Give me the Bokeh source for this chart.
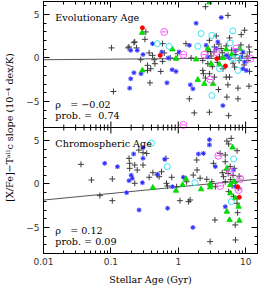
import numpy as np
from bokeh.plotting import figure
from bokeh.models import (Range1d, LogAxis, LinearAxis, FixedTicker, LogTicker,
                          CustomJSTickFormatter, Span, Label)
from bokeh.embed import file_html
from bokeh.resources import INLINE

# ---------------- data (age in Gyr, slope in 1e-4 dex/K) ----------------
# Evolutionary age panel
evo_plus_age = [0.102, 0.18, 0.109, 0.33, 0.32, 0.22, 0.186, 0.24, 0.585, 0.37, 0.415, 0.62, 0.76, 0.277, 0.44,
                0.45, 0.35, 0.39, 0.585, 0.35, 0.55, 0.38, 0.226,
                2.53, 5.46, 9.66, 8.6, 5.77, 3.66, 2.9, 1.3, 3.44, 4.33, 5.15, 11.2, 11.4, 2.75, 3.0, 3.4, 0.98,
                1.55, 2.31, 3.07, 4.09, 10.8, 2.75, 4.6, 6.85, 11.4, 2.31, 2.36, 2.9, 2.53, 3.44, 5.15, 5.77, 1.46,
                3.95, 5.46, 7.7, 11.2, 1.73, 2.9, 5.6, 5.27, 7.7,
                4.5, 5.5, 6.2, 7.0, 8.0, 9.0, 3.8, 6.5, 4.0, 8.5, 10.5, 3.2, 9.5]
evo_plus_val = [1.16, 1.16, -3.86, 3.0, 2.15, 1.77, 1.27, 1.16, 1.65, 0.58, 0.3, 0.58, 0.0, -0.2, -0.2,
                -0.66, -0.85, -1.24, -0.39, -1.43, -1.55, -2.86, 1.85,
                5.9, 4.9, 3.19, 2.69, 2.31, 2.54, 2.03, 1.65, 1.27, 1.08, 1.39, 1.27, 0.69, 0.76, 0.72, 0.7, 0.5,
                0.0, -0.28, 0.23, 0.12, -0.28, -0.66, -1.24, -1.04, -1.55, -1.43, -1.81, -1.81, -2.31, -2.2, -2.2,
                -2.2, -4.7, -3.63, -3.09, -3.47, -3.24, -6.32, -6.24, -6.64, -4.5, -4.7,
                0.6, 0.3, 0.9, 0.4, -0.3, 0.5, -0.5, -0.6, 1.6, 1.5, 0.2, -1.0, -0.8]
evo_blue_age = [0.19, 0.197, 0.246, 0.415, 0.57, 0.71, 0.22, 0.28, 0.197, 0.81, 0.925, 0.68, 4.34, 1.84, 3.87,
                1.46, 2.59, 3.66, 9.1, 1.03, 2.75, 5.15, 5.77, 8.6, 9.66, 9.1, 10.2, 1.51, 1.65, 4.6, 0.3, 7.0]
evo_blue_val = [-3.47, 0.88, 0.88, 1.65, 0.69, 0.0, -1.7, -1.81, -2.39, -1.35, -1.55, -2.86, 4.66, 4.0, 1.85,
                1.46, 1.46, 1.08, 0.69, 0.69, 0.12, 0.3, 0.0, 0.12, -0.46, -1.24, -1.43, -3.09, -3.55, -5.48, 0.4, 0.8]
evo_green_age = [2.9, 0.29, 0.82, 0.925, 0.294, 2.75, 5.15, 8.1, 1.84, 4.6, 3.07, 4.09, 1.95, 2.44, 3.28, 6.2]
evo_green_val = [6.4, 2.9, 0.99, -0.08, -1.43, 1.08, 0.99, 1.08, -0.16, 0.0, -0.66, -0.77, -2.51, -2.97, -2.97, 0.4]
evo_cyan_age = [0.49, 0.73, 2.18, 3.15, 6.46, 5.9, 1.95, 6.46, 7.7, 4.09, 7.7, 3.15]
evo_cyan_val = [1.65, 1.34, 2.81, 2.6, 3.12, 1.73, 1.34, -0.08, 0.0, -1.24, -1.43, -4.32]
evo_mag_age = [0.62, 3.66, 7.26, 2.44, 1.19, 11.8, 3.0, 1.19]
evo_mag_val = [3.0, 0.69, 1.08, 0.38, 0.38, -0.08, -2.47, -7.7]
evo_red_age = [0.294, 0.54, 3.74, 5.02]
evo_red_val = [3.47, 0.3, -0.08, -0.92]
evo_fit_age = [0.01, 15.0]
evo_fit_val = [-0.2, 0.0]

# Chromospheric age panel
chr_plus_age = [0.036, 0.0515, 0.105, 0.0686, 0.105, 0.186, 0.19, 0.19, 0.246, 0.26, 0.30, 0.34, 0.226, 0.30,
                0.226, 0.565, 0.49, 0.42, 0.655, 0.52, 0.8, 0.37, 0.67, 0.946, 0.69, 1.88, 1.9, 1.67, 2.11, 2.65,
                3.15, 1.33, 1.06, 1.5, 1.42, 5.27, 5.6, 6.1, 4.19, 4.98, 7.45, 3.33, 4.98, 5.9, 4.7, 4.98, 3.55,
                5.59, 6.62, 7.45, 7.6, 7.0, 3.5, 2.97, 7.06, 5.5, 6.0, 6.5, 7.0, 5.2, 6.8, 4.5, 8.0, 7.8, 6.3]
chr_plus_val = [2.26, 0.46, 0.57, -1.34, -1.92, 2.95, 2.38, 1.8, 1.61, 3.9, 3.6, 3.52, 2.18, 2.18,
                0.08, 1.41, 1.03, 1.3, 2.95, 0.84, 0.77, 0.77, 0.08, -0.31, -0.23, 2.76, 1.61, 1.03, 0.66, 0.54,
                0.26, 0.26, -1.92, -1.84, -2.03, 4.94, 4.6, 5.25, 3.52, 3.33, 3.83, 2.38, 2.56, 2.0, 0.84, 0.26,
                -0.31, -0.88, -1.46, -2.22, -3.3, -4.71, -4.14, -6.63, -6.44, 1.2, 0.5, 1.0, 0.2, 1.6, 1.8, 1.3,
                0.9, -0.5, -0.2]
chr_blue_age = [0.081, 0.125, 0.171, 0.208, 0.186, 0.262, 0.30, 0.218, 0.30, 0.294, 0.63, 0.49, 0.82, 0.695,
                1.19, 2.9, 2.9, 1.99, 2.36, 3.55, 6.62, 7.06, 4.98, 1.65, 0.2]
chr_blue_val = [2.38, 1.99, -1.0, 0.66, 0.38, -2.99, 4.2, 3.45, 2.95, 0.15, 2.84, 1.11, -0.31, -2.79,
                0.77, 5.1, 4.5, 3.45, 3.52, 2.0, 1.61, -0.31, -2.61, -5.0, 1.0]
chr_green_age = [6.4, 5.27, 0.42, 0.925, 2.18, 2.97, 5.9, 6.77, 5.9, 7.0, 5.27, 7.87, 5.77, 8.06, 1.3, 1.16, 2.97]
chr_green_val = [4.2, 1.8, -0.42, -0.77, -0.61, -0.03, -0.11, 0.26, -1.07, -1.64, -3.18, -2.61, -4.14, -4.22,
                 0.57, -0.11, -0.38]
chr_cyan_age = [6.62, 0.685, 1.77, 6.12, 0.4]
chr_cyan_val = [2.87, 1.99, 0.15, -2.03, 4.7]
chr_mag_age = [3.95, 5.9, 4.19, 8.34, 7.87]
chr_mag_val = [3.25, 1.41, -0.23, 0.57, -0.69]
chr_red_age = [7.6, 8.06]
chr_red_val = [-0.31, -1.53]
chr_fit_age = [0.01, 15.0]
chr_fit_val = [-1.85, 0.55]

NB = "\u00a0"
panel_titles = ["Evolutionary Age", "Chromospheric Age"]
rho_texts = ["\u03c1" + NB * 3 + "=" + NB + "\u22120.02", "\u03c1" + NB * 3 + "=" + NB + "0.12"]
prob_texts = ["prob." + NB + "=" + NB * 2 + "0.74", "prob." + NB + "=" + NB + "0.09"]
y_major = [-5, 0, 5]

# ---------------- layout constants ----------------
OFF = 14.5          # vertical offset that stacks the upper panel above the lower one
YLO, YHI = -8.0, 6.5
SERIF = "DejaVu Serif"
SANS = "DejaVu Sans"
FS = "9.6px"
W, H = 259, 287
BL, BR, BT, BB = 43, 2, 1, 33

p = figure(width=W, height=H, x_axis_type="log",
           x_range=Range1d(0.01, 15.0), y_range=Range1d(YLO, YHI + OFF),
           output_backend="svg", toolbar_location=None,
           min_border_left=BL, min_border_right=BR, min_border_top=BT, min_border_bottom=BB)
p.xgrid.visible = False
p.ygrid.visible = False
p.outline_line_color = "black"
p.background_fill_color = "white"
p.border_fill_color = "white"

y_major_all = y_major + [t + OFF for t in y_major]
y_minor_all = list(range(-8, 7)) + [t + OFF for t in range(-7, 7)]
yticker = FixedTicker(ticks=y_major_all, minor_ticks=y_minor_all)
xticker = LogTicker(num_minor_ticks=10)

yfmt = CustomJSTickFormatter(code="""
const v = tick > %f ? tick - %f : tick;
const r = Math.round(v);
return r < 0 ? "\\u2212" + Math.abs(r) : String(r);
""" % (YHI, OFF))
xfmt = CustomJSTickFormatter(code="return String(+tick.toPrecision(6));")
blank = CustomJSTickFormatter(code="return '';")


def style_axis(ax):
    ax.axis_line_color = "black"
    ax.major_tick_line_color = "black"
    ax.minor_tick_line_color = "black"
    ax.major_tick_in = 6
    ax.major_tick_out = 0
    ax.minor_tick_in = 3
    ax.minor_tick_out = 0
    ax.major_label_text_font = SANS
    ax.major_label_text_font_size = "9px"
    ax.major_label_text_color = "#333333"
    ax.axis_label_text_font = SERIF
    ax.axis_label_text_font_size = FS
    ax.axis_label_text_font_style = "normal"
    ax.axis_label_text_color = "black"


xa = p.xaxis[0]
xa.ticker = xticker
xa.formatter = xfmt
xa.axis_label = "Stellar Age (Gyr)"
style_axis(xa)
xa.major_label_standoff = 4
xa.axis_label_standoff = 6

ya = p.yaxis[0]
ya.ticker = yticker
ya.formatter = yfmt
ya.axis_label = "[X/Fe]\u2212T\u1d43\u02e1\u02e1c slope (10\u207b\u2074 dex/K)"
style_axis(ya)
ya.major_label_standoff = 4
ya.axis_label_standoff = 8

top_ax = LogAxis(ticker=xticker, formatter=blank)
style_axis(top_ax)
top_ax.major_label_text_font_size = "0px"
top_ax.major_label_standoff = 0
p.add_layout(top_ax, "above")

right_ax = LinearAxis(ticker=yticker, formatter=blank)
style_axis(right_ax)
right_ax.major_label_text_font_size = "0px"
right_ax.major_label_standoff = 0
p.add_layout(right_ax, "right")

# divider between the panels, with ticks on both sides
p.add_layout(Span(location=YHI, dimension="width", line_color="black", line_width=1))
px_per_unit = (H - BT - BB) / (YHI + OFF - YLO)
div_major = [10.0 ** d for d in range(-2, 2)]
div_minor = [k * 10.0 ** d for d in range(-2, 2) for k in range(2, 10) if k * 10.0 ** d <= 15]
for ticks, ln in ((div_major, 6), (div_minor, 3)):
    L = ln / px_per_unit
    p.segment(x0=ticks, x1=ticks, y0=[YHI - L] * len(ticks), y1=[YHI + L] * len(ticks),
              line_color="black", line_width=1)


def draw_panel(off, plus, blue, green, cyan, mag, red, fit):
    p.line(fit[0], list(np.array(fit[1]) + off), line_color="#555555", line_width=1)
    p.scatter(plus[0], list(np.array(plus[1]) + off), marker="cross", size=6,
              line_color="#3c3c3c", line_width=1)
    p.scatter(blue[0], list(np.array(blue[1]) + off), marker="circle", size=5,
              fill_color="#9c9cff", fill_alpha=0.6, line_color=None)
    p.scatter(blue[0], list(np.array(blue[1]) + off), marker="asterisk", size=4.5,
              line_color="#2a2aff", line_width=1)
    p.scatter(green[0], list(np.array(green[1]) + off), marker="triangle", size=5.5,
              fill_color="#00e000", line_color="#00d000", line_width=0.8)
    p.scatter(cyan[0], list(np.array(cyan[1]) + off), marker="circle", size=6,
              fill_color=None, line_color="#40e4f0", line_width=1)
    p.scatter(mag[0], list(np.array(mag[1]) + off), marker="circle", size=7,
              fill_color=None, line_color="#ff55ff", line_width=1)
    p.scatter(mag[0], list(np.array(mag[1]) + off), marker="dash", size=5,
              line_color="#ff55ff", line_width=1)
    p.scatter(red[0], list(np.array(red[1]) + off), marker="circle", size=4,
              fill_color="#ff0000", line_color="#ff0000")


draw_panel(OFF, (evo_plus_age, evo_plus_val), (evo_blue_age, evo_blue_val),
           (evo_green_age, evo_green_val), (evo_cyan_age, evo_cyan_val),
           (evo_mag_age, evo_mag_val), (evo_red_age, evo_red_val), (evo_fit_age, evo_fit_val))
draw_panel(0.0, (chr_plus_age, chr_plus_val), (chr_blue_age, chr_blue_val),
           (chr_green_age, chr_green_val), (chr_cyan_age, chr_cyan_val),
           (chr_mag_age, chr_mag_val), (chr_red_age, chr_red_val), (chr_fit_age, chr_fit_val))

for i, off in enumerate((OFF, 0.0)):
    for txt, yv in ((panel_titles[i], 4.7), (rho_texts[i], -5.4), (prob_texts[i], -6.6)):
        p.add_layout(Label(x=0.015, y=yv + off, text=txt, text_font=SERIF, text_font_size=FS,
                           text_baseline="middle", text_color="black"))

open("out.html", "w").write(file_html(p, INLINE))
